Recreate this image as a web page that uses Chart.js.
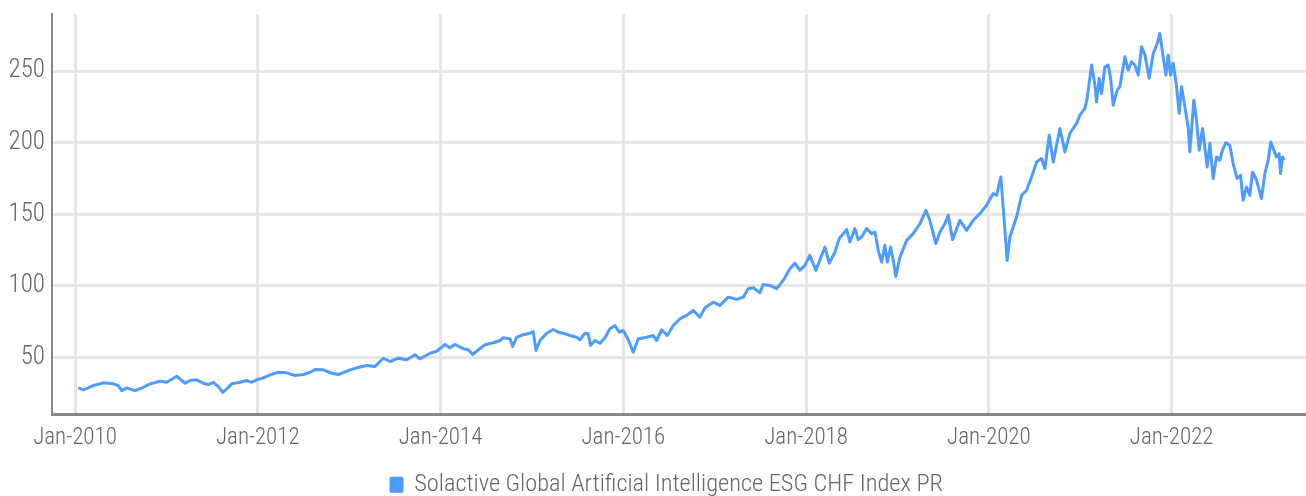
<!DOCTYPE html>
<html>
<head>
<meta charset="utf-8">
<script src="https://cdn.jsdelivr.net/npm/chart.js@4.4.1/dist/chart.umd.min.js"></script>
<style>
html,body{margin:0;padding:0;background:#fff;}
#wrap{width:1306px;height:496px;position:relative;}
</style>
</head>
<body>
<div id="wrap"><canvas id="c" width="1306" height="496"></canvas></div>
<script>
// Dates as decimal years
const dates = [
2010.036,2010.091,2010.200,2010.310,2010.419,2010.474,2010.511,2010.566,2010.656,2010.747,2010.821,2010.930,
2011.003,2011.113,2011.204,2011.258,2011.332,2011.404,2011.458,2011.513,2011.568,2011.616,2011.660,2011.714,2011.805,2011.879,2011.933,2011.988,
2012.060,2012.133,2012.224,2012.316,2012.407,2012.498,2012.571,2012.626,2012.717,2012.809,2012.881,
2013.009,2013.082,2013.191,2013.282,2013.373,2013.446,2013.537,2013.629,2013.720,2013.775,2013.884,2013.957,
2014.048,2014.103,2014.158,2014.248,2014.303,2014.351,2014.413,2014.486,2014.577,2014.650,2014.686,2014.759,2014.789,2014.833,2014.905,2014.978,
2015.014,2015.044,2015.088,2015.161,2015.233,2015.288,2015.342,2015.416,2015.489,2015.525,2015.580,2015.616,2015.642,2015.689,2015.744,2015.799,2015.853,2015.908,2015.955,2015.999,
2016.054,2016.108,2016.163,2016.255,2016.327,2016.364,2016.419,2016.480,2016.546,2016.619,2016.692,2016.765,2016.838,2016.893,2016.984,
2017.057,2017.148,2017.239,2017.312,2017.367,2017.421,2017.494,2017.531,2017.604,2017.677,2017.749,2017.823,2017.877,2017.932,2017.987,
2018.041,2018.107,2018.170,2018.206,2018.253,2018.315,2018.362,2018.443,2018.479,2018.534,2018.570,2018.607,2018.662,2018.716,2018.753,2018.789,2018.826,2018.862,2018.888,2018.925,2018.953,2018.982,
2019.026,2019.100,2019.172,2019.245,2019.311,2019.354,2019.420,2019.464,2019.519,2019.555,2019.603,2019.683,2019.756,2019.828,2019.902,2019.975,
2020.047,2020.084,2020.131,2020.156,2020.200,2020.230,2020.266,2020.303,2020.358,2020.412,2020.467,2020.522,2020.576,2020.613,2020.660,2020.704,2020.777,2020.832,2020.886,2020.959,2020.996,
2021.050,2021.075,2021.124,2021.160,2021.178,2021.207,2021.233,2021.269,2021.306,2021.332,2021.360,2021.404,2021.433,2021.488,2021.524,2021.561,2021.597,2021.634,2021.671,2021.707,2021.754,2021.798,2021.842,2021.871,2021.907,2021.937,2021.962,2021.988,
2022.017,2022.054,2022.082,2022.108,2022.144,2022.180,2022.199,2022.243,2022.272,2022.301,2022.338,2022.388,2022.418,2022.454,2022.491,2022.527,2022.556,2022.592,2022.636,2022.673,2022.716,2022.754,2022.782,2022.819,2022.855,2022.885,2022.929,2022.983,
2023.020,2023.056,2023.085,2023.118,2023.147,2023.176,2023.191,2023.213,2023.228
];
const indexValues = [
28.7,27.3,30.3,32.2,31.5,30.3,26.8,28.7,26.8,29.1,31.5,33.3,
32.6,36.8,31.9,33.8,34.3,31.9,31.0,32.6,29.6,25.6,28.0,31.5,32.6,33.8,32.6,34.3,
35.7,37.8,39.6,39.2,37.3,38.0,39.6,41.5,41.3,38.9,38.0,
41.3,42.7,44.3,43.6,49.4,47.1,49.4,48.3,51.8,49.0,52.9,54.3,
59.0,56.7,59.0,56.0,55.3,52.0,55.3,58.8,60.2,61.8,63.7,63.0,57.6,64.1,65.8,66.9,
68.1,54.8,61.8,66.9,69.5,67.6,66.9,65.3,64.1,62.3,66.9,66.5,58.3,61.8,59.9,63.7,70.0,72.3,67.6,68.8,
62.3,53.6,63.0,64.1,65.3,61.8,69.3,65.3,72.3,77.0,79.3,82.8,78.1,84.7,88.6,
86.3,92.1,90.5,92.1,98.0,98.7,95.2,101.0,100.3,98.0,103.8,112.0,115.9,110.8,114.3,
121.3,110.8,121.3,127.1,115.9,123.6,133.0,139.3,130.6,140.0,132.3,134.1,140.0,136.5,137.6,124.8,116.6,128.3,116.6,127.1,117.8,106.6,
120.1,131.8,136.5,143.5,152.8,145.8,129.5,137.6,143.5,149.3,132.3,145.8,138.8,145.8,150.5,156.3,
164.5,163.3,176.1,155.1,117.8,134.1,141.1,148.1,163.3,166.8,176.1,186.6,189.0,182.0,205.3,186.6,210.0,193.6,206.5,213.5,219.3,
224.0,231.0,254.3,240.3,228.6,245.0,234.5,253.1,254.3,245.0,226.3,236.8,239.1,260.1,250.8,256.6,254.3,247.3,267.1,261.3,245.0,262.4,269.5,276.4,260.1,247.3,261.3,247.3,
255.5,239.1,220.5,239.1,225.1,211.1,193.6,229.8,215.8,194.8,210.0,183.1,199.5,175.0,190.1,187.8,194.8,199.9,198.3,185.5,175.0,177.3,159.8,169.1,163.3,179.6,173.8,161.0,
178.5,187.8,200.6,194.8,190.1,192.4,178.5,190.1,187.8
];
const xTickYears = [2010,2012,2014,2016,2018,2020,2022];
const yTickValues = [50,100,150,200,250];
const seriesName = 'Solactive Global Artificial Intelligence ESG CHF Index PR';

const FONT = "'Roboto Condensed', Roboto, sans-serif";
const points = dates.map((d,i)=>({x:d,y:indexValues[i]}));

// move the legend block to its place under the axis labels
const legendShift = {
  id: 'legendShift',
  afterLayout(chart) {
    const lg = chart.legend;
    if (lg) { lg.top += 11; lg.bottom += 11; lg.left += 14; lg.right += 14; }
  }
};

new Chart(document.getElementById('c'), {
  type: 'line',
  data: {
    datasets: [{
      label: seriesName,
      data: points,
      borderColor: '#4e9cff',
      backgroundColor: '#4e9cff',
      borderWidth: 3,
      pointRadius: 0,
      tension: 0,
      borderJoinStyle: 'round'
    }]
  },
  plugins: [legendShift],
  options: {
    responsive: false,
    animation: false,
    layout: { padding: { top: 14, right: 0, left: 0, bottom: 0 } },
    plugins: {
      legend: {
        position: 'bottom',
        labels: {
          font: { family: FONT, size: 24.4, weight: 300 },
          color: '#666',
          boxWidth: 11,
          boxHeight: 13,
          padding: 2
        }
      },
      tooltip: { enabled: false }
    },
    scales: {
      x: {
        type: 'linear',
        min: 2009.748,
        max: 2023.47,
        afterBuildTicks: s => { s.ticks = xTickYears.map(v=>({value:v})); },
        afterFit: s => { s.height = 45; s.paddingLeft = 0; s.paddingRight = 0; },
        ticks: {
          font: { family: FONT, size: 23, weight: 300 },
          color: '#666',
          padding: 10,
          maxRotation: 0,
          callback: v => 'Jan-' + v
        },
        grid: { color: '#e6e6e6', lineWidth: 3, drawTicks: false },
        border: { color: '#888', width: 3 }
      },
      y: {
        min: 10,
        max: 290,
        afterBuildTicks: s => { s.ticks = yTickValues.map(v=>({value:v})); },
        afterFit: s => { s.width = 52; s.paddingTop = 0; s.paddingBottom = 0; },
        ticks: {
          font: { family: FONT, size: 25, weight: 300 },
          color: '#666',
          padding: 7
        },
        grid: { color: '#e6e6e6', lineWidth: 3, drawTicks: false },
        border: { color: '#888', width: 2 }
      }
    }
  }
});
</script>
</body>
</html>
